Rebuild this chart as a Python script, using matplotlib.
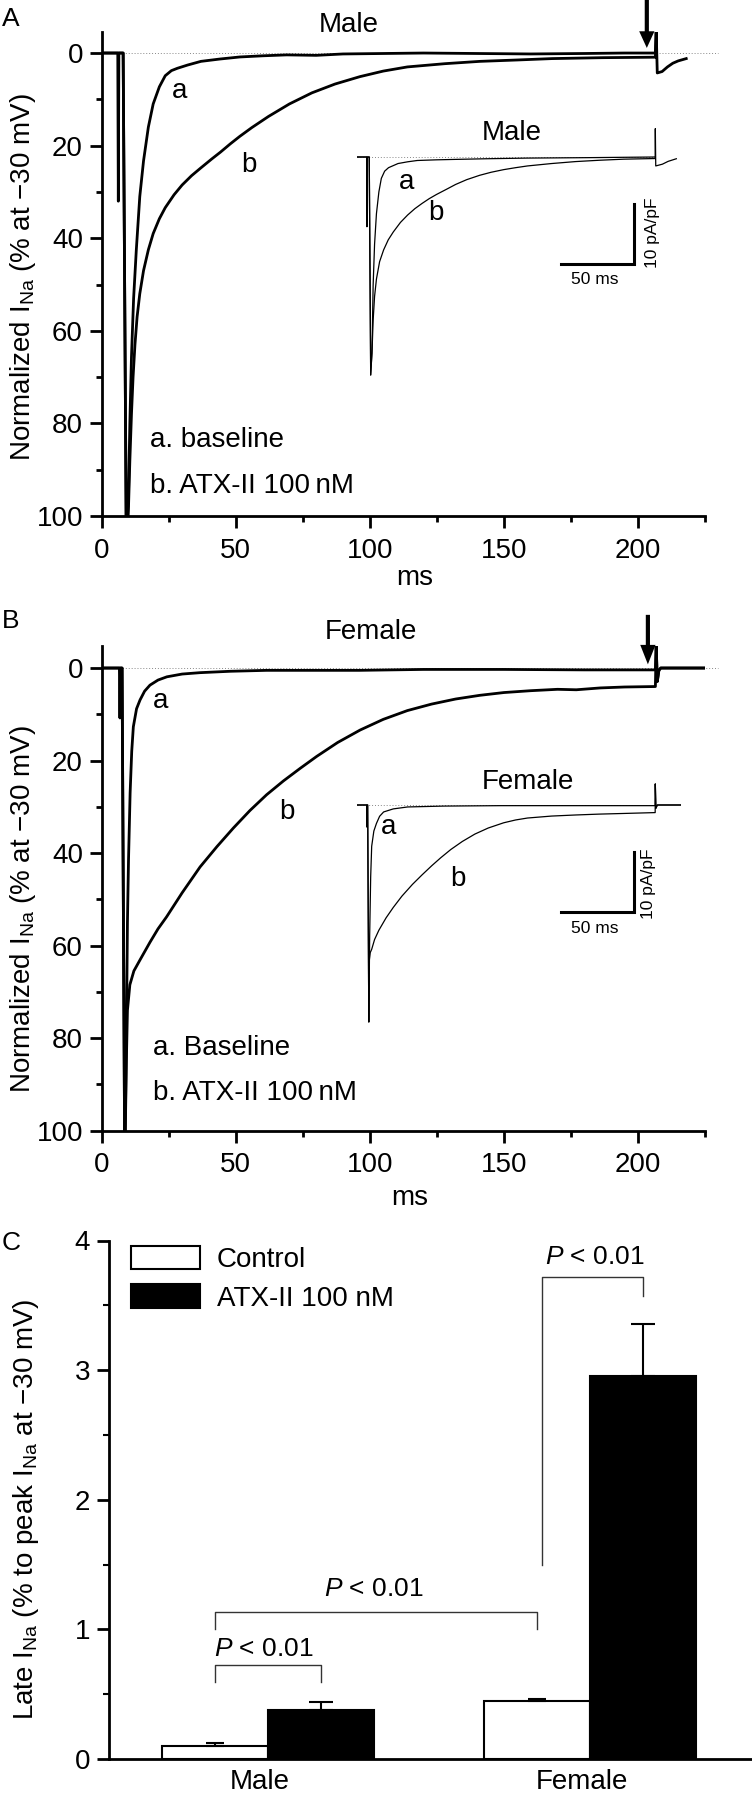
import matplotlib
matplotlib.use('Agg')
import matplotlib.pyplot as plt
import numpy as np

plt.rcParams['font.family'] = ['Liberation Sans', 'DejaVu Sans']
plt.rcParams['mathtext.fontset'] = 'custom'
plt.rcParams['mathtext.rm'] = 'Liberation Sans'
plt.rcParams['mathtext.it'] = 'Liberation Sans:italic'
plt.rcParams['mathtext.bf'] = 'Liberation Sans:bold'

# ---------------- data: panel A (male), normalized I_Na (% of peak) ----------------
male_base_t = [0, 6.0, 6.2, 6.4, 8.0, 9.2, 10.0, 10.5, 11.1, 11.9, 12.9, 14.2, 15.6, 17.4,
               19.2, 21.5, 23.7, 26, 28.2, 32, 37, 44, 51.5, 60, 69, 80, 90, 105, 120,
               140, 160, 180, 195, 206.5, 206.8]
male_base_y = [0, 0, 32, 0, 0, 108, 95, 80, 65.7, 53, 42.6, 31, 23.3, 16,
               11, 7.3, 4.9, 3.8, 3.3, 2.6, 1.8, 1.3, 0.85, 0.6, 0.4, 0.5, 0.2, 0.1, 0.0,
               0.1, 0.2, 0.1, 0.0, 0.0, -4.8]
male_atx_t = [0, 8.0, 9.2, 10.0, 10.5, 11.1, 11.7, 12.4, 13.2, 14.2, 15.6, 17.4, 19.2, 21.5,
              23.7, 27, 30, 33.5, 37, 41, 44.3, 48, 51.5, 56, 62.2, 70, 78.4, 87, 96.3, 105,
              114, 128, 141, 155, 168, 187, 206.5, 206.8, 207.2, 209, 211, 213, 215, 218]
male_atx_y = [0, 0, 108, 98, 88, 78, 70, 63, 57, 52, 47, 42.5, 39, 35.8,
              33.4, 30.6, 28.5, 26.5, 24.8, 22.9, 21.4, 19.6, 18.0, 16.1, 13.7, 11.0, 8.6, 6.7,
              5.1, 3.9, 3.0, 2.3, 1.8, 1.5, 1.2, 1.0, 0.9, -4.8, 4.3, 4.0, 3.0, 2.2, 1.7, 1.2]

# ---------------- data: panel B (female) ----------------
female_base_t = [0, 6.6, 6.8, 7.0, 7.6, 8.6, 9.2, 9.6, 10.0, 10.6, 11.2, 11.8, 13, 14.3, 16,
                 18, 21, 24.3, 30, 36.7, 48, 61.5, 80, 96, 120, 150, 180, 206.5, 206.8,
                 207.2, 207.8, 208.5, 225]
female_base_y = [0, 0, 10.8, 0, 0, 108, 80, 55, 41.5, 27, 18, 12.7, 8.8, 6.9, 5.0,
                 3.7, 2.6, 1.9, 1.3, 1.0, 0.7, 0.5, 0.5, 0.5, 0.3, 0.3, 0.4, 0.4, -5.0,
                 2.9, 0.5, 0, 0]
female_atx_t = [0, 7.6, 8.6, 9.2, 9.6, 10.5, 12, 14.3, 18, 21, 24.2, 30, 36.7, 43, 49.1,
                55.3, 61.5, 67.8, 74, 80.2, 88, 96.4, 105, 114, 123, 132, 141, 150, 160,
                170, 177, 186, 195, 206.5, 206.8, 207.2, 207.8, 208.5, 225]
female_atx_y = [0, 0, 108, 85, 74, 68.5, 65.5, 63.1, 59.3, 56.4, 53.8, 48.6, 43, 38.6, 34.6,
                30.8, 27.4, 24.4, 21.7, 19.1, 16.1, 13.4, 11.1, 9.2, 7.8, 6.7, 5.9, 5.3, 4.9,
                4.6, 4.7, 4.3, 4.1, 4.0, -5.0, 2.9, 0.5, 0, 0]

# ---------------- data: insets (raw traces, peak scaled to 100) ----------------
inset_male_base_t = [0, 6.5, 6.7, 6.9, 8.3, 9.3, 10.2, 11, 12, 13.3, 15, 16.7, 19, 21.7,
                     28.3, 35, 41.7, 55, 68, 90, 118, 160, 207]
inset_male_base_y = [0, 0, 32, 0, 0, 100, 90, 59, 40, 26, 16, 9.8, 6.5, 4.9,
                     3, 2.2, 1.6, 1.3, 1.1, 0.8, 0.5, 0.3, 0.0]
inset_male_atx_t = [0, 8.3, 9.3, 10.3, 11, 12, 13.3, 15.5, 18.3, 21.5, 25, 30, 35, 40, 45,
                    50, 55, 62, 68.3, 76, 85, 93, 101.7, 110, 118.3, 135, 151.7, 168, 185,
                    207, 207.1, 207.4, 212, 216, 221.7]
inset_male_atx_y = [0, 0, 100, 88, 75, 64, 56, 48, 42.6, 38, 34.4, 30, 26.6, 23.7, 21.3,
                    19.1, 17.2, 14.8, 12.6, 10.4, 8.4, 7.0, 5.8, 4.9, 4.1, 3.0, 2.1, 1.5, 1.0,
                    0.7, -13, 4.1, 3.3, 2.0, 0.8]
inset_female_base_t = [0, 6.5, 6.7, 6.9, 7.2, 8.0, 8.6, 9.3, 10, 11.5, 13.3, 15.5, 18.3, 25,
                       35, 60, 100, 150, 207, 207.1, 207.5, 208.5, 225]
inset_female_base_y = [0, 0, 10.2, 0, 0, 100, 60, 33, 19, 12, 8.5, 5.2, 3.2, 1.8,
                       0.9, 0.5, 0.3, 0.3, 0.3, -9.7, 1.5, 0, 0]
inset_female_atx_t = [0, 7.2, 8.0, 8.3, 9, 10, 12, 15, 20, 25, 31, 38.3, 45, 51.7, 58, 65,
                      73, 81.7, 91, 101.7, 110, 118.3, 135, 151.7, 168, 185, 207, 207.1,
                      207.5, 208.5, 225]
inset_female_atx_y = [0, 0, 100, 71.8, 68, 66.5, 62, 57.7, 52, 47.2, 42, 36.6, 32.2, 28.0,
                      24.3, 20.5, 16.8, 13.4, 10.6, 8.2, 6.9, 6.0, 5.1, 4.6, 4.2, 3.9, 3.5, -9.7,
                      1.5, 0, 0]

# ---------------- data: panel C (late I_Na) ----------------
groups = ['Male', 'Female']
control_mean = [0.10, 0.45]
control_err = [0.02, 0.01]
atx_mean = [0.38, 2.955]
atx_err = [0.062, 0.40]
legend_labels = ['Control', 'ATX-II 100 nM']
p_label = '$P$ < 0.01'

# ---------------- layout helpers ----------------
W, H = 752, 1800
fig = plt.figure(figsize=(W / 100, H / 100), dpi=100)


def px_axes(left, top, right, bottom):
    return fig.add_axes([left / W, 1 - bottom / H, (right - left) / W, (bottom - top) / H])


FS = 20
LW_TRACE = 2.0
LW_INSET = 0.9


def style_trace_ax(ax, ytop):
    for s in ['top', 'right']:
        ax.spines[s].set_visible(False)
    for s in ['left', 'bottom']:
        ax.spines[s].set_linewidth(2)
    ax.set_xlim(0, 225)
    ax.set_ylim(100, ytop)
    ax.set_xticks([0, 50, 100, 150, 200])
    ax.set_xticks([25, 75, 125, 175, 225], minor=True)
    ax.set_yticks([0, 20, 40, 60, 80, 100])
    ax.set_yticks([10, 30, 50, 70, 90], minor=True)
    ax.tick_params(which='major', length=8.5, width=2, labelsize=FS, direction='out')
    ax.tick_params(which='minor', length=4.5, width=2, direction='out')
    ax.tick_params(axis='x', which='major', pad=7)
    ax.tick_params(axis='y', which='major', pad=5)


def draw_inset(left, y0px, pxunit, t_a, y_a, t_b, y_b, title, a_pos, b_pos,
               title_pos, ms_pos, pa_pos):
    tunit = 1.439
    ax = px_axes(left, y0px - 20 * pxunit, left + 225 * tunit, y0px + 110 * pxunit)
    ax.set_xlim(0, 225)
    ax.set_ylim(110, -20)
    ax.axis('off')
    ax.plot([0, 207], [0, 0], color='#888888', lw=0.7, ls=(0, (1, 2)))
    ax.plot(t_b, y_b, color='black', lw=LW_INSET)
    ax.plot(t_a, y_a, color='black', lw=LW_INSET)
    ax.text(a_pos[0], a_pos[1], 'a', fontsize=FS, ha='center', va='baseline')
    ax.text(b_pos[0], b_pos[1], 'b', fontsize=FS, ha='center', va='baseline')
    ax.text(title_pos[0], title_pos[1], title, fontsize=FS, ha='center', va='baseline')
    # scale bars
    sb_t = (141.3, 192.3)
    sb_y = (21.5, 49.1)
    ax.plot([sb_t[0], sb_t[1], sb_t[1]], [sb_y[1], sb_y[1], sb_y[0]], color='black',
            lw=2.2, solid_joinstyle='miter')
    ax.text(ms_pos[0], ms_pos[1], '50 ms', fontsize=12.5, ha='center', va='center')
    ax.text(pa_pos[0], pa_pos[1], '10 pA/pF', fontsize=12.5, ha='center', va='center',
            rotation=90)
    return ax


# ---------------- Panel A ----------------
axA = px_axes(101.7, 32.2, 705, 516)
style_trace_ax(axA, -4.5)
axA.plot([0, 230], [0, 0], color='#888888', lw=0.7, ls=(0, (1, 2)), clip_on=False)
axA.plot(male_atx_t, male_atx_y, color='black', lw=LW_TRACE)
axA.plot(male_base_t, male_base_y, color='black', lw=LW_TRACE)
axA.text(29.2, 9.8, 'a', fontsize=FS, ha='center', va='baseline')
axA.text(54.8, 25.6, 'b', fontsize=FS, ha='center', va='baseline')
axA.text(17.9, 85.0, 'a. baseline', fontsize=FS, ha='left', va='baseline')
axA.text(17.9, 95.0, 'b. ATX-II 100\u2009nM', fontsize=FS, ha='left', va='baseline')
axA.text(92.3, -4.5, 'Male', fontsize=FS, ha='center', va='baseline', clip_on=False)
axA.annotate('', xy=(203.3, -1.1), xytext=(203.3, -11.6), annotation_clip=False,
             arrowprops=dict(facecolor='black', edgecolor='black', width=3,
                             headwidth=11, headlength=12, shrink=0, lw=0))
fig.text(23 / W, 1 - 277 / H, 'Normalized I$_{\\mathrm{Na}}$ (% at \u221230 mV)',
         fontsize=FS, rotation=90, ha='center', va='center')
fig.text(415 / W, 1 - 578 / H, 'ms', fontsize=FS, ha='center', va='center')
fig.text(2 / W, 1 - 7 / H, 'A', fontsize=19, ha='left', va='top')

draw_inset(357.3, 157, 2.18, inset_male_base_t, inset_male_base_y,
           inset_male_atx_t, inset_male_atx_y, 'Male',
           (34.5, 14.5), (54.7, 28.7), (107.5, -7.8), (165, 56.4), (205.2, 34.9))

# ---------------- Panel B ----------------
axB = px_axes(101.7, 646.3, 705, 1130.5)
style_trace_ax(axB, -4.7)
axB.plot([0, 230], [0, 0], color='#888888', lw=0.7, ls=(0, (1, 2)), clip_on=False)
axB.plot(female_atx_t, female_atx_y, color='black', lw=LW_TRACE)
axB.plot(female_base_t, female_base_y, color='black', lw=LW_TRACE)
axB.text(22.1, 8.7, 'a', fontsize=FS, ha='center', va='baseline')
axB.text(69.1, 32.7, 'b', fontsize=FS, ha='center', va='baseline')
axB.text(19.0, 83.6, 'a. Baseline', fontsize=FS, ha='left', va='baseline')
axB.text(19.0, 93.5, 'b. ATX-II 100\u2009nM', fontsize=FS, ha='left', va='baseline')
axB.text(100.5, -6.3, 'Female', fontsize=FS, ha='center', va='baseline', clip_on=False)
axB.annotate('', xy=(203.7, -0.8), xytext=(203.7, -11.5), annotation_clip=False,
             arrowprops=dict(facecolor='black', edgecolor='black', width=3,
                             headwidth=11, headlength=14, shrink=0, lw=0))
fig.text(23 / W, 1 - 909 / H, 'Normalized I$_{\\mathrm{Na}}$ (% at \u221230 mV)',
         fontsize=FS, rotation=90, ha='center', va='center')
fig.text(410 / W, 1 - 1198 / H, 'ms', fontsize=FS, ha='center', va='center')
fig.text(2 / W, 1 - 609 / H, 'B', fontsize=19, ha='left', va='top')

draw_inset(357.3, 805, 2.17, inset_female_base_t, inset_female_base_y,
           inset_female_atx_t, inset_female_atx_y, 'Female',
           (22, 13.3), (70, 37.5), (118.3, -7.5), (164.8, 56.8), (202.5, 36.1))

# ---------------- Panel C ----------------
axC = px_axes(109, 1240.5, 752, 1759)
for s in ['top', 'right']:
    axC.spines[s].set_visible(False)
for s in ['left', 'bottom']:
    axC.spines[s].set_linewidth(2)
pos = np.arange(len(groups), dtype=float)
bw = 0.33
bc = axC.bar(pos - bw / 2, control_mean, bw, color='white', edgecolor='black', lw=1.5,
             zorder=2)
ba = axC.bar(pos + bw / 2, atx_mean, bw, color='black', edgecolor='black', lw=1.5,
             zorder=2)
axC.errorbar(pos - bw / 2, control_mean, yerr=[np.zeros(2), control_err], fmt='none',
             ecolor='black', elinewidth=1.5, capsize=6.8, capthick=1.5, zorder=3)
axC.errorbar(pos + bw / 2, atx_mean, yerr=[np.zeros(2), atx_err], fmt='none',
             ecolor='black', elinewidth=1.5, capsize=8.8, capthick=1.5, zorder=3)
axC.set_xlim(-0.494, 1.503)
axC.set_ylim(0, 4)
axC.set_xticks(pos - 0.025)
axC.set_xticklabels(groups)
axC.set_yticks([0, 1, 2, 3, 4])
axC.set_yticks([0.5, 1.5, 2.5, 3.5], minor=True)
axC.tick_params(axis='x', length=0, pad=7, labelsize=FS)
axC.tick_params(axis='y', which='major', length=8.5, width=2, pad=5, labelsize=FS)
axC.tick_params(axis='y', which='minor', length=4, width=1.5)

# significance brackets: (x_left, x_right, y_top, y_left_end, y_right_end, text_x, text_y)
xc_m, xa_m = pos[0] - bw / 2, pos[0] + bw / 2
xc_f, xa_f = pos[1] - bw / 2, pos[1] + bw / 2
brackets = [
    (xc_m, xa_m, 0.727, 0.593, 0.593, -0.013, 0.798),
    (xc_m, xc_f, 1.136, 1.005, 1.005, 0.327, 1.26),
    (xc_f + 0.015, xa_f, 3.715, 1.497, 3.574, 1.015, 3.816),
]
for xl, xr, yt, yl, yr, tx, ty in brackets:
    axC.plot([xl, xl, xr, xr], [yl, yt, yt, yr], color='#333333', lw=1.0)
    axC.text(tx, ty, p_label, fontsize=19, ha='center', va='baseline')

axC.legend([bc, ba], legend_labels, loc='upper left',
           bbox_to_anchor=(130.5 / W, 1 - 1245.5 / H), bbox_transform=fig.transFigure,
           frameon=False, fontsize=FS, handlelength=2.5, handleheight=0.92,
           handletextpad=0.6, labelspacing=0.42, borderpad=0, borderaxespad=0)

fig.text(26 / W, 1 - 1509 / H,
         'Late I$_{\\mathrm{Na}}$ (% to peak I$_{\\mathrm{Na}}$ at \u221230 mV)',
         fontsize=FS, rotation=90, ha='center', va='center')
fig.text(2 / W, 1 - 1231 / H, 'C', fontsize=19, ha='left', va='top')

fig.savefig('out.png', dpi=100)
